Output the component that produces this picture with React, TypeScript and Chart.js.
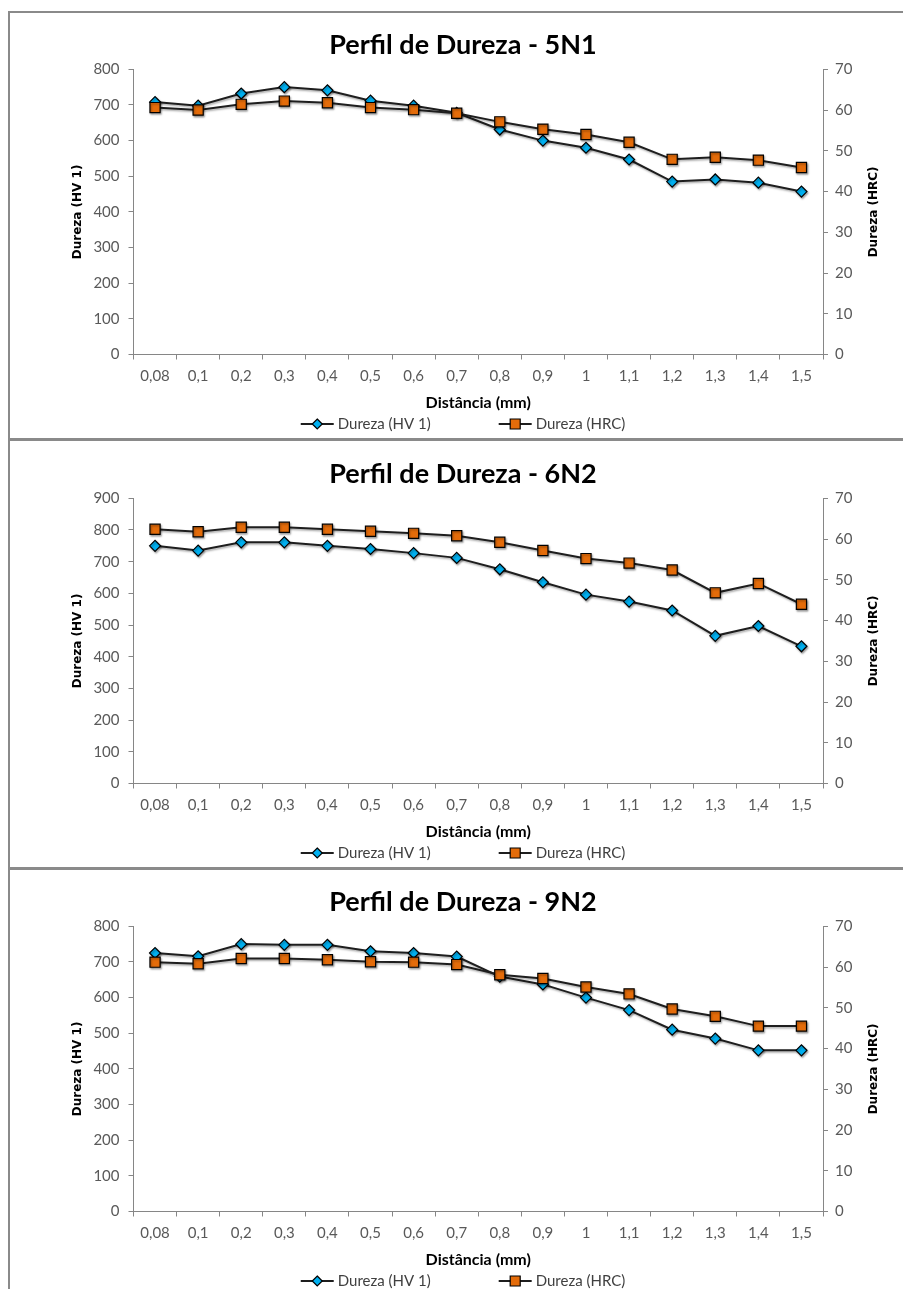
import React, { useEffect, useRef } from 'react';
import { Chart, registerables } from 'chart.js';

Chart.register(...registerables);

// ---------- data ----------
const categories = ['0,08', '0,1', '0,2', '0,3', '0,4', '0,5', '0,6', '0,7', '0,8', '0,9', '1', '1,1', '1,2', '1,3', '1,4', '1,5'];
const seriesLabels = ['Dureza (HV 1)', 'Dureza (HRC)'];
const chartTitles = ['Perfil de Dureza - 5N1', 'Perfil de Dureza - 6N2', 'Perfil de Dureza - 9N2'];
const xAxisTitle = 'Distância (mm)';
const leftAxisTitle = 'Dureza (HV 1)';
const rightAxisTitle = 'Dureza (HRC)';

const hv5N1 = [708, 698, 732, 750, 741, 712, 698, 678, 631, 600, 580, 547, 485, 491, 482, 457];
const hrc5N1 = [60.6, 60.0, 61.4, 62.2, 61.8, 60.6, 60.1, 59.2, 57.1, 55.3, 54.0, 52.1, 47.9, 48.4, 47.7, 45.9];
const hv6N2 = [750, 735, 761, 761, 750, 740, 727, 712, 676, 635, 596, 574, 546, 466, 497, 433];
const hrc6N2 = [62.4, 61.8, 62.9, 62.9, 62.4, 61.9, 61.4, 60.8, 59.2, 57.2, 55.2, 54.1, 52.4, 46.8, 49.1, 44.0];
const hv9N2 = [725, 716, 750, 748, 748, 730, 725, 715, 659, 637, 600, 565, 510, 485, 452, 452];
const hrc9N2 = [61.2, 60.8, 62.1, 62.1, 61.8, 61.3, 61.2, 60.6, 58.1, 57.2, 55.1, 53.4, 49.7, 47.9, 45.5, 45.5];

const hvAxisMax = [800, 900, 800];
const hvAxisStep = 100;
const hrcAxisMax = 70;
const hrcAxisStep = 10;

// ---------- styles ----------
const lineColor = '#1e1e1e';
const hvFill = '#00B0F0';
const hrcFill = '#E46C0A';
const axisColor = '#868686';
const tickColor = '#595959';
const labelFont = 'Lato';
const axisTitleFont = 'DejaVu Sans';

const shadowPlugin = {
  id: 'excelShadow',
  beforeDatasetsDraw(chart: any) {
    const ctx = chart.ctx;
    ctx.save();
    ctx.shadowColor = 'rgba(0,0,0,0.35)';
    ctx.shadowBlur = 2;
    ctx.shadowOffsetX = 1;
    ctx.shadowOffsetY = 1.5;
  },
  afterDatasetsDraw(chart: any) {
    chart.ctx.restore();
  },
};

const rightTitlePlugin = {
  id: 'rightTitle',
  afterDraw(chart: any) {
    const scale = chart.scales.y1;
    const text = scale.options.title.text;
    const ctx = chart.ctx;
    const a = chart.chartArea;
    ctx.save();
    ctx.translate(a.right + 51, (a.top + a.bottom) / 2);
    ctx.rotate(-Math.PI / 2);
    ctx.font = `bold 12px "${axisTitleFont}"`;
    ctx.fillStyle = '#000';
    ctx.textAlign = 'center';
    ctx.textBaseline = 'middle';
    ctx.fillText(text, 0, 0);
    ctx.restore();
  },
};

function drawMarker(ctx: any, kind: string, x: number, y: number) {
  ctx.save();
  ctx.lineWidth = 1.2;
  ctx.strokeStyle = '#000';
  ctx.beginPath();
  if (kind === 'rectRot') {
    const r = 5;
    ctx.moveTo(x, y - r);
    ctx.lineTo(x + r, y);
    ctx.lineTo(x, y + r);
    ctx.lineTo(x - r, y);
    ctx.closePath();
    ctx.fillStyle = hvFill;
  } else {
    const h = 5;
    ctx.rect(x - h, y - h, 2 * h, 2 * h);
    ctx.fillStyle = hrcFill;
  }
  ctx.fill();
  ctx.stroke();
  ctx.restore();
}

const legendPlugin = {
  id: 'excelLegend',
  afterDraw(chart: any) {
    const ctx = chart.ctx;
    const datasets = chart.data.datasets;
    const lineLen = 33;
    const textGap = 4;
    const itemGap = 68;
    ctx.save();
    ctx.font = `15px "${labelFont}"`;
    const widths = datasets.map((d: any) => lineLen + textGap + ctx.measureText(d.label).width);
    const total = widths.reduce((s: number, w: number) => s + w, 0) + itemGap * (datasets.length - 1);
    let x = chart.width / 2 - total / 2;
    const y = 411;
    datasets.forEach((d: any, i: number) => {
      ctx.strokeStyle = lineColor;
      ctx.lineWidth = 2;
      ctx.beginPath();
      ctx.moveTo(x, y);
      ctx.lineTo(x + lineLen, y);
      ctx.stroke();
      drawMarker(ctx, d.pointStyle, x + lineLen / 2, y);
      ctx.fillStyle = '#404040';
      ctx.textAlign = 'left';
      ctx.textBaseline = 'middle';
      ctx.fillText(d.label, x + lineLen + textGap, y);
      x += widths[i] + itemGap;
    });
    ctx.restore();
  },
};

type Props = { title: string; hv: number[]; hrc: number[]; hvMax: number; top: number };

function HardnessChart({ title, hv, hrc, hvMax, top }: Props) {
  const ref = useRef<HTMLCanvasElement>(null);
  useEffect(() => {
    const chart = new Chart(ref.current as HTMLCanvasElement, {
      type: 'line',
      data: {
        labels: categories,
        datasets: [
          {
            label: seriesLabels[0],
            data: hv,
            yAxisID: 'y',
            borderColor: lineColor,
            borderWidth: 2,
            pointStyle: 'rectRot',
            pointRadius: 5.5,
            pointBackgroundColor: hvFill,
            pointBorderColor: '#000',
            pointBorderWidth: 1.2,
            tension: 0,
            order: 1,
          },
          {
            label: seriesLabels[1],
            data: hrc,
            yAxisID: 'y1',
            borderColor: lineColor,
            borderWidth: 2,
            pointStyle: 'rect',
            pointRadius: 7.2,
            pointBackgroundColor: hrcFill,
            pointBorderColor: '#000',
            pointBorderWidth: 1.2,
            tension: 0,
            order: 0,
          },
        ],
      },
      options: {
        animation: false,
        responsive: false,
        events: [],
        layout: { padding: { left: 0, right: 0, top: 0, bottom: 28 } },
        plugins: {
          legend: { display: false },
          tooltip: { enabled: false },
          title: {
            display: true,
            text: title,
            color: '#000',
            font: { family: labelFont, size: 27, weight: 'bold', lineHeight: 1.2 },
            padding: { top: 15.8, bottom: 8.1 },
          },
        },
        scales: {
          x: {
            type: 'category',
            offset: true,
            grid: { offset: true, drawOnChartArea: false, drawTicks: true, tickLength: 5, color: axisColor },
            border: { display: true, color: axisColor, width: 1 },
            ticks: { font: { family: labelFont, size: 15 }, color: tickColor, padding: 8, maxRotation: 0, autoSkip: false },
            title: {
              display: true,
              text: xAxisTitle,
              color: '#000',
              font: { family: labelFont, size: 16, weight: 'bold', lineHeight: 1.2 },
              padding: { top: 0, bottom: 0.4 },
            },
            afterFit: (s: any) => { s.height = 58.5; },
          },
          y: {
            position: 'left',
            min: 0,
            max: hvMax,
            ticks: { stepSize: hvAxisStep, font: { family: labelFont, size: 15 }, color: tickColor, padding: 9 },
            grid: { drawOnChartArea: false, drawTicks: true, tickLength: 5, color: axisColor },
            border: { display: true, color: axisColor, width: 1 },
            title: {
              display: true,
              text: leftAxisTitle,
              color: '#000',
              font: { family: axisTitleFont, size: 12, weight: 'bold', lineHeight: 1.2 },
              padding: { top: 60.8, bottom: 0 },
            },
            afterFit: (s: any) => { s.width = 123.5; },
          },
          y1: {
            position: 'right',
            min: 0,
            max: hrcAxisMax,
            ticks: { stepSize: hrcAxisStep, font: { family: labelFont, size: 15 }, color: tickColor, padding: 7 },
            grid: { drawOnChartArea: false, drawTicks: true, tickLength: 5, color: axisColor },
            border: { display: true, color: axisColor, width: 1 },
            title: { display: false, text: rightAxisTitle },
            afterFit: (s: any) => { s.width = 93; },
          },
        },
      } as any,
      plugins: [shadowPlugin, rightTitlePlugin, legendPlugin],
    });
    return () => chart.destroy();
  }, [title, hv, hrc, hvMax]);
  return (
    <canvas
      ref={ref}
      width={906}
      height={428}
      style={{ position: 'absolute', left: 10, top, width: 906, height: 428, display: 'block' }}
    />
  );
}

export default function App() {
  const hvSeries = [hv5N1, hv6N2, hv9N2];
  const hrcSeries = [hrc5N1, hrc6N2, hrc9N2];
  const tops = [13, 442, 870];
  return (
    <div style={{ position: 'absolute', left: 0, top: 0, width: 903, height: 1289, overflow: 'hidden', background: '#fff' }}>
      {chartTitles.map((t, i) => (
        <HardnessChart key={t} title={t} hv={hvSeries[i]} hrc={hrcSeries[i]} hvMax={hvAxisMax[i]} top={tops[i]} />
      ))}
      <div style={{ position: 'absolute', left: 8, top: 11, width: 900, height: 2, background: '#8a8a8a' }} />
      <div style={{ position: 'absolute', left: 8, top: 11, width: 1.5, height: 1290, background: '#8a8a8a' }} />
      <div style={{ position: 'absolute', left: 8, top: 438, width: 900, height: 3, background: '#8a8a8a' }} />
      <div style={{ position: 'absolute', left: 8, top: 867, width: 900, height: 3, background: '#8a8a8a' }} />
    </div>
  );
}
